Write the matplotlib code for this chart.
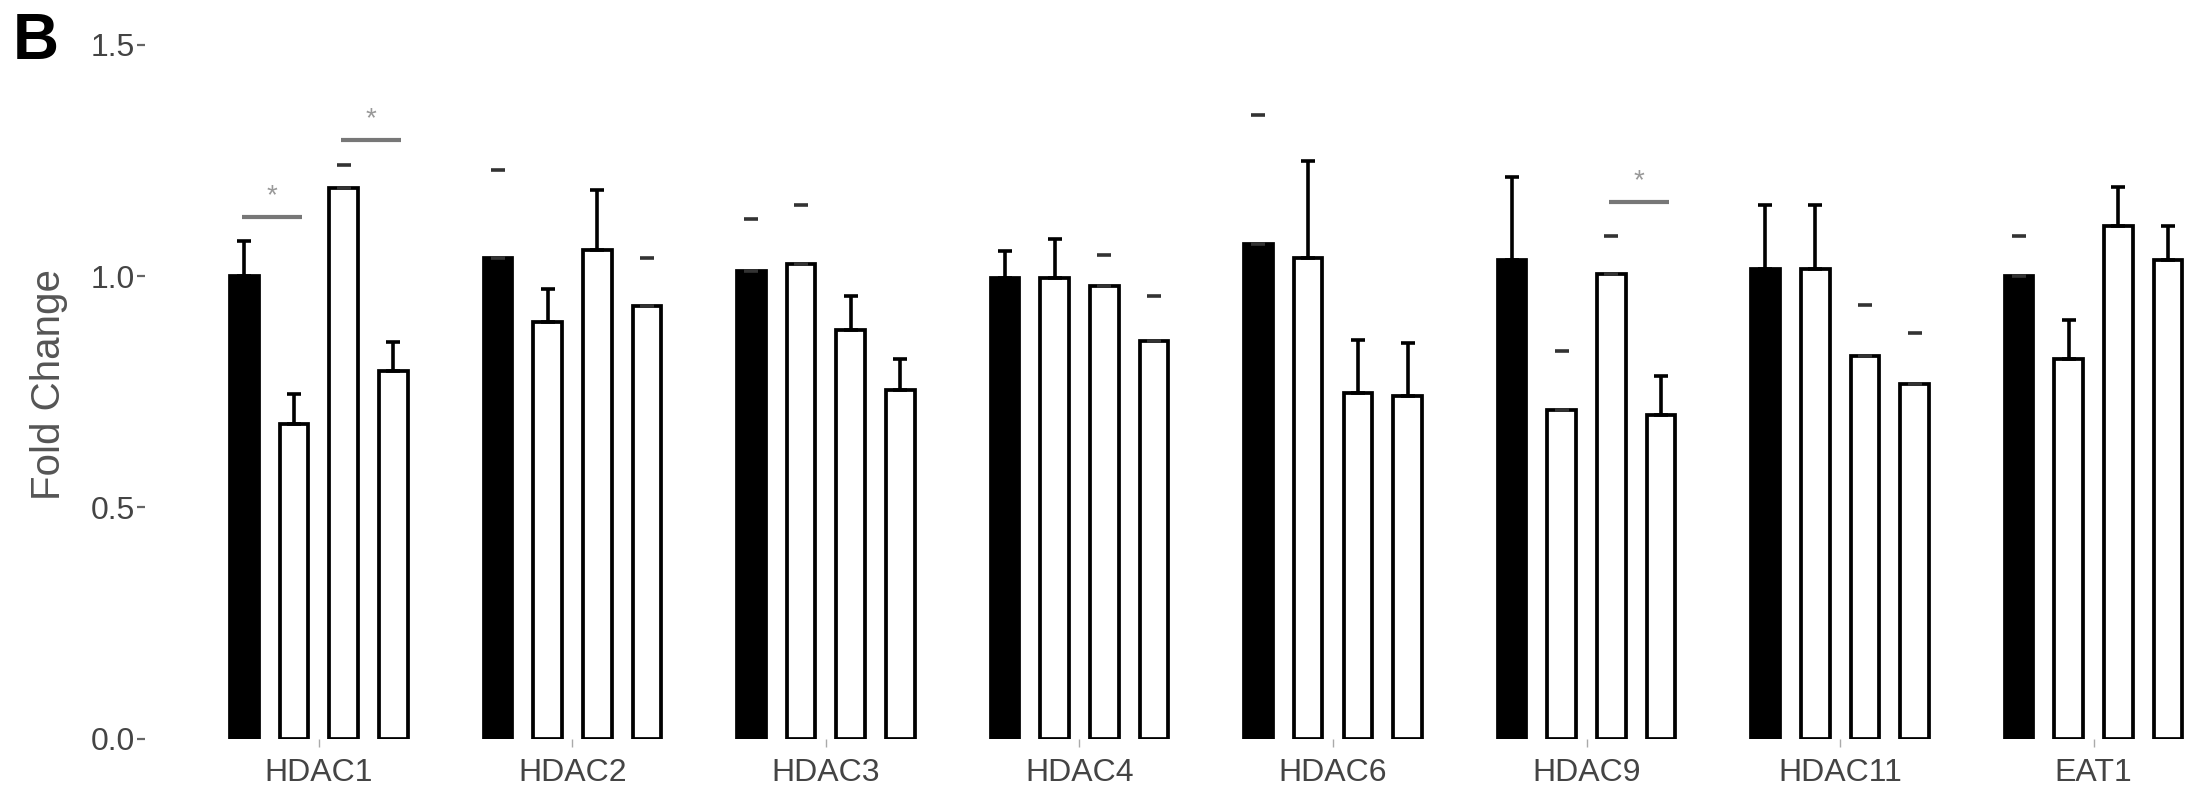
import matplotlib
matplotlib.use("Agg")
import matplotlib.pyplot as plt
import numpy as np

plt.rcParams["font.family"] = ["Liberation Sans", "DejaVu Sans"]

# 基因與四組條件的數值 (Fold Change)
genes = ["HDAC1", "HDAC2", "HDAC3", "HDAC4", "HDAC6", "HDAC9", "HDAC11", "EAT1"]
cond1 = [1.00, 1.04, 1.01, 0.995, 1.07, 1.035, 1.016, 1.00]
cond2 = [0.68, 0.90, 1.025, 0.996, 1.04, 0.71, 1.016, 0.82]
cond3 = [1.19, 1.056, 0.883, 0.979, 0.747, 1.005, 0.827, 1.109]
cond4 = [0.795, 0.936, 0.753, 0.859, 0.740, 0.700, 0.767, 1.034]

# 誤差 (只畫上方)
err1 = [0.076, 0.19, 0.114, 0.059, 0.278, 0.178, 0.137, 0.086]
err2 = [0.064, 0.072, 0.129, 0.085, 0.208, 0.127, 0.137, 0.084]
err3 = [0.05, 0.131, 0.074, 0.066, 0.114, 0.082, 0.11, 0.083]
err4 = [0.063, 0.102, 0.068, 0.098, 0.115, 0.085, 0.11, 0.075]

# 原圖中只看得到橫線、看不到直線的誤差棒
faint1 = [0, 1, 1, 0, 1, 0, 0, 1]
faint2 = [0, 0, 1, 0, 0, 1, 0, 0]
faint3 = [1, 0, 0, 1, 0, 1, 1, 0]
faint4 = [0, 1, 0, 1, 0, 0, 1, 0]

# 顯著性標記: (基因, 柱a, 柱b, 橫線高度)
sig_gene = [0, 0, 5]
sig_a = [0, 2, 2]
sig_b = [1, 3, 3]
sig_y = [1.127, 1.294, 1.159]

W, H = 2198, 799
fig = plt.figure(figsize=(W / 100, H / 100), dpi=100)
ax = fig.add_axes([145 / W, 60.3 / H, 1 - 145 / W, 694 / H])

x = np.arange(len(genes))
pitch = 0.196
bar_w = 0.113
offsets = (np.arange(4) - 1.5) * pitch

series = [cond1, cond2, cond3, cond4]
errors = [err1, err2, err3, err4]
faints = [faint1, faint2, faint3, faint4]
fills = ["black", "white", "white", "white"]

for k in range(4):
    xs = x + offsets[k]
    vals = np.array(series[k])
    errs = np.array(errors[k])
    ax.bar(xs, vals, width=bar_w, color=fills[k], edgecolor="black",
           linewidth=2.7, zorder=2)
    fmask = np.array(faints[k]) == 1
    # 可見的誤差棒
    ax.errorbar(xs[~fmask], vals[~fmask],
                yerr=[np.zeros((~fmask).sum()), errs[~fmask]],
                fmt="none", ecolor="black", elinewidth=2.6, capsize=5,
                capthick=2.6, zorder=3)
    # 只剩橫線的誤差棒
    ax.errorbar(xs[fmask], vals[fmask],
                yerr=[np.zeros(fmask.sum()), errs[fmask]],
                fmt="none", ecolor="#333333", elinewidth=0, capsize=5,
                capthick=2.6, zorder=3)

for g, a, b, y in zip(sig_gene, sig_a, sig_b, sig_y):
    x0 = g + offsets[a] - 0.01
    x1 = g + offsets[b] + 0.03
    ax.plot([x0, x1], [y, y], color="#777777", lw=3, solid_capstyle="butt")
    ax.text((x0 + x1) / 2, y + 0.045, "*", ha="center", va="center",
            fontsize=20, color="#999999")

ax.set_xlim(-0.686, 7.412)
ax.set_ylim(0, 1.5)
ax.set_yticks([0, 0.5, 1.0, 1.5])
ax.set_yticklabels(["0.0", "0.5", "1.0", "1.5"])
ax.set_xticks(x)
ax.set_xticklabels(genes)

for s in ax.spines.values():
    s.set_visible(False)

ax.tick_params(axis="y", direction="out", length=6, width=1.6,
               color="#666666", labelcolor="#444444", labelsize=23, pad=1)
ax.tick_params(axis="x", direction="out", length=6, width=1.0,
               color="#aaaaaa", labelcolor="#444444", labelsize=23, pad=8)

fig.text(49 / W, 1 - 385 / H, "Fold Change", rotation=90, ha="center",
         va="center", fontsize=29, color="#555555")
fig.text(36 / W, 1 - 42 / H, "B", ha="center", va="center", fontsize=46,
         fontweight="bold", color="black")

fig.savefig("out.png", dpi=100)
